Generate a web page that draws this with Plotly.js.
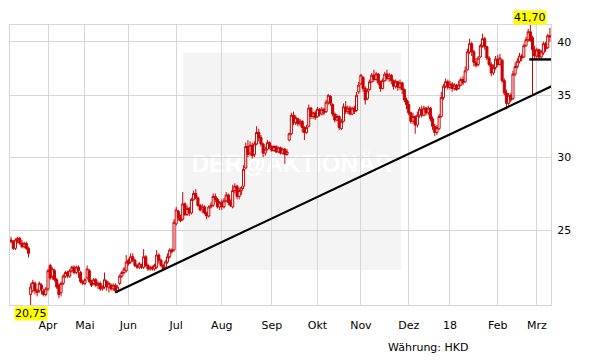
<!DOCTYPE html>
<html><head><meta charset="utf-8">
<script src="https://cdn.plot.ly/plotly-3.0.1.min.js"></script>
<style>html,body{margin:0;padding:0;background:#fff}#chart{width:611px;height:364px}</style>
</head><body><div id="chart"></div>
<script>
const startDate = '2017-03-09';
const endDate = '2018-03-09';
const holidays = ['2017-04-04','2017-04-14','2017-04-17','2017-05-01','2017-05-03','2017-05-30',
  '2017-10-02','2017-10-05','2017-12-25','2017-12-26','2018-01-01','2018-02-16','2018-02-19'];
const monthLabels = ['Jan','Feb','Mrz','Apr','Mai','Jun','Jul','Aug','Sep','Okt','Nov','Dez'];

const open = [
24.4,24.3,23.9,24.4,24.5,24.2,24.0,24.2,23.9,21.3,
21.5,21.9,21.5,21.5,21.8,21.5,21.3,21.6,22.9,22.3,
22.6,22.1,21.8,21.4,21.9,22.3,22.5,22.3,22.6,22.8,
22.5,22.8,22.5,22.0,21.9,22.2,22.6,22.0,21.9,22.1,
21.8,21.9,21.6,21.7,22.0,21.7,21.8,21.6,21.8,21.5,
21.9,22.3,22.5,22.6,23.2,23.1,23.4,23.2,22.9,22.8,
22.9,22.8,23.4,22.9,22.7,22.8,22.7,22.8,23.5,23.2,
22.9,22.8,23.1,23.4,23.8,23.8,25.4,26.2,25.8,25.7,
26.7,26.0,26.4,26.1,27.0,27.4,27.1,26.6,26.3,26.5,
26.1,25.9,26.5,26.6,27.2,27.0,26.5,26.8,26.5,26.9,
27.3,26.8,26.5,27.6,27.9,27.2,27.6,27.9,29.2,30.8,
30.3,30.9,30.2,31.0,31.9,31.5,31.0,30.3,30.6,31.1,
30.8,30.5,30.8,30.4,30.7,30.3,30.6,30.2,31.3,31.8,
33.3,32.7,33.0,32.6,32.8,32.3,31.9,32.4,33.9,33.2,
33.5,33.2,33.8,33.4,33.8,33.6,34.4,34.9,34.2,33.4,
32.9,33.2,32.2,32.8,34.0,33.6,33.9,33.4,33.9,33.7,
35.3,36.0,36.6,35.6,34.7,35.5,36.2,36.8,36.4,36.9,
36.1,35.6,36.3,36.9,36.5,36.8,36.3,35.8,36.2,35.7,
36.1,35.5,34.6,34.2,33.5,32.8,33.2,32.5,33.3,33.8,
33.3,33.9,33.5,33.9,33.0,32.4,31.9,32.2,33.2,34.8,
35.8,36.2,35.7,36.0,35.6,35.9,35.6,35.9,36.4,36.2,
37.3,39.0,39.8,39.0,38.0,37.8,38.5,39.6,40.3,39.5,
38.4,37.8,37.0,37.5,38.3,37.8,38.2,36.3,35.2,34.3,
35.0,34.7,36.9,37.6,38.1,38.6,38.5,39.6,40.2,41.0,
40.4,39.2,38.6,39.2,38.5,38.9,39.8,39.4,40.6];

const high = [
24.6,24.4,24.5,24.6,24.6,24.4,24.3,24.3,24.0,21.9,
22.1,22.0,21.6,22.0,21.9,21.6,21.7,22.7,23.0,22.8,
22.7,22.2,21.9,22.0,22.4,22.6,22.6,22.7,22.9,22.9,
22.9,22.9,22.6,22.1,22.2,22.9,22.7,22.1,22.2,22.2,
22.0,22.0,21.8,22.5,22.1,22.0,21.9,21.9,21.9,21.8,
22.4,22.6,22.8,23.5,23.3,23.6,23.6,23.3,23.0,23.1,
23.0,23.85,23.5,23.0,22.9,22.9,23.0,23.8,23.6,23.3,
23.0,23.2,23.6,23.9,23.9,25.7,26.5,26.3,26.0,27.5,
26.8,26.6,26.5,27.1,27.6,27.7,27.2,26.7,26.7,26.6,
26.2,26.6,26.8,27.4,27.4,27.1,26.9,27.0,27.1,27.5,
27.4,27.0,28.0,28.1,28.0,27.8,27.9,29.4,31.1,31.3,
31.2,31.1,31.2,32.4,32.2,31.7,31.1,30.8,31.3,31.2,
30.9,30.9,30.9,30.8,30.8,30.7,30.7,30.6,31.9,33.5,
33.6,33.3,33.1,33.0,32.9,32.4,32.5,34.2,34.0,33.6,
33.7,34.0,33.9,34.0,33.9,34.6,35.1,35.0,34.3,33.5,
33.4,33.3,33.0,34.3,34.5,34.1,34.1,34.0,34.1,35.3,
36.2,36.9,36.7,35.8,35.6,36.4,37.0,37.3,37.1,37.0,
36.3,36.5,37.1,37.3,37.0,36.9,36.4,36.4,36.3,36.4,
36.2,35.6,34.8,34.5,33.6,33.5,33.3,33.6,34.0,34.1,
34.1,34.0,34.1,34.0,33.2,32.6,32.5,33.4,35.3,36.0,
36.5,36.4,36.3,36.2,36.1,36.0,36.3,36.6,36.7,37.6,
39.3,40.3,40.0,39.2,38.4,38.6,39.8,40.8,40.5,39.6,
38.6,38.0,37.8,38.6,38.7,38.8,38.3,36.5,35.5,35.2,
35.2,37.2,38.0,38.4,38.9,38.8,39.8,40.5,41.3,41.7,
40.6,39.6,39.4,39.3,39.2,40.0,40.0,40.8,41.4];

const low = [
24.2,23.8,23.8,24.2,24.1,23.9,23.9,23.8,23.35,20.75,
21.4,21.3,21.2,21.4,21.3,21.2,21.2,21.5,22.1,22.1,
22.0,21.6,21.1,21.2,21.8,22.2,22.2,22.2,22.5,22.4,
22.4,22.2,21.9,21.8,21.8,22.1,21.9,21.7,21.8,21.7,
21.6,21.5,21.5,21.6,21.5,21.4,21.5,21.5,21.4,21.4,
21.8,22.2,22.4,22.5,22.9,23.0,23.1,22.8,22.7,22.7,
22.7,22.7,22.8,22.6,22.6,22.6,22.6,22.7,23.0,22.8,
22.6,22.7,23.0,23.3,23.6,23.7,25.3,25.6,25.5,25.6,
25.9,25.9,25.9,26.0,26.9,27.0,26.5,26.2,26.1,26.0,
25.7,25.8,26.4,26.5,26.8,26.4,26.3,26.3,26.4,26.8,
26.6,26.5,26.4,27.4,27.0,27.0,27.3,27.7,29.1,30.0,
30.1,29.9,30.0,30.9,31.2,30.8,30.0,30.1,30.5,30.6,
30.4,30.4,30.3,30.3,30.2,30.2,29.5,30.1,31.2,31.7,
32.5,32.5,32.4,32.4,31.9,31.3,31.8,32.3,33.0,33.0,
32.9,33.1,33.2,33.3,33.3,33.5,34.2,34.1,33.2,32.7,
32.8,32.1,32.1,32.7,33.4,33.4,33.3,33.3,33.4,33.6,
35.1,35.9,35.3,34.2,34.6,35.4,36.1,36.2,36.3,35.9,
35.3,35.5,36.2,36.3,36.2,36.0,35.5,35.6,35.4,35.5,
35.1,34.4,33.8,33.3,32.6,32.6,31.8,32.3,33.1,33.1,
33.2,33.3,33.3,32.8,32.1,31.6,31.7,32.1,33.1,34.6,
35.6,35.5,35.5,35.3,35.4,35.4,35.5,35.8,35.9,36.1,
37.2,38.8,38.6,37.6,37.5,37.6,38.4,39.4,39.2,38.2,
37.6,36.7,36.8,37.3,37.6,37.7,36.1,35.0,33.8,34.1,
34.4,34.6,36.7,37.4,37.9,38.1,38.4,39.5,40.0,40.0,
35.0,38.3,38.3,38.3,38.3,38.7,39.0,39.3,40.0];

const close = [
24.3,23.9,24.4,24.5,24.2,24.0,24.2,23.9,23.6,21.7,
21.95,21.5,21.4,21.9,21.6,21.3,21.6,22.6,22.2,22.7,
22.1,21.7,21.3,21.9,22.3,22.5,22.3,22.6,22.8,22.5,
22.8,22.6,22.0,21.9,22.1,22.7,22.0,21.8,22.1,21.8,
21.9,21.6,21.7,22.1,21.7,21.9,21.6,21.8,21.5,21.7,
22.3,22.5,22.7,23.1,23.0,23.4,23.2,22.9,22.8,23.0,
22.8,23.4,22.9,22.7,22.8,22.7,22.9,23.5,23.2,22.9,
22.7,23.1,23.4,23.8,23.7,25.5,26.3,25.8,25.6,26.7,
26.0,26.4,26.1,27.0,27.4,27.1,26.6,26.3,26.5,26.1,
25.9,26.5,26.6,27.2,27.0,26.5,26.8,26.5,26.9,27.3,
26.8,26.6,27.6,27.9,27.2,27.6,27.8,29.1,30.8,30.2,
30.9,30.1,31.0,31.9,31.5,31.0,30.3,30.6,31.1,30.8,
30.5,30.8,30.4,30.7,30.3,30.6,30.2,30.4,31.8,33.3,
32.7,33.1,32.6,32.8,32.3,31.9,32.3,33.9,33.2,33.5,
33.1,33.8,33.4,33.8,33.5,34.4,35.0,34.3,33.4,32.9,
33.2,32.3,32.8,34.0,33.6,33.9,33.4,33.9,33.6,35.0,
35.9,36.8,35.6,34.6,35.4,36.2,36.8,36.4,36.9,36.1,
35.6,36.3,36.9,36.5,36.8,36.3,35.8,36.2,35.7,36.1,
35.5,34.6,34.2,33.5,32.8,33.2,32.5,33.3,33.8,33.3,
33.9,33.5,33.9,33.0,32.4,31.9,32.3,33.2,34.8,35.8,
36.2,35.7,36.0,35.6,35.9,35.5,35.9,36.4,36.1,37.2,
39.0,39.8,39.0,38.0,37.7,38.4,39.6,40.3,39.5,38.4,
37.8,37.0,37.5,38.3,37.8,38.4,36.3,35.2,34.3,35.0,
34.6,36.9,37.6,38.1,38.6,38.4,39.6,40.2,41.0,40.1,
39.2,38.6,39.2,38.5,39.0,39.8,39.3,40.6,40.5];

const trendX = [47.9, 250.8];
const trendY = [21.41, 35.98];
const supportX = [238.5, 248.5];
const supportY = [38.27, 38.27];
const yTicks = [25, 30, 35, 40];
const currencyText = 'Währung: HKD';
const watermarkText = 'DER@AKTIONÄR';

// trading calendar
const dates = [];
let d = new Date(startDate + 'T00:00:00Z');
const end = new Date(endDate + 'T00:00:00Z');
while (d <= end) {
  const dow = d.getUTCDay();
  const s = d.toISOString().slice(0, 10);
  if (dow !== 0 && dow !== 6 && holidays.indexOf(s) < 0) dates.push(s);
  d = new Date(d.getTime() + 86400000);
}
const n = close.length;
const idx = close.map((_, i) => i);
const tickvals = [], ticktext = [];
for (let i = 1; i < n && i < dates.length; i++) {
  const m = dates[i].slice(5, 7);
  if (m !== dates[i - 1].slice(5, 7)) {
    tickvals.push(i);
    ticktext.push(m === '01' ? dates[i].slice(2, 4) : monthLabels[parseInt(m, 10) - 1]);
  }
}
const minLow = Math.min(...low), maxHigh = Math.max(...high);
const iMin = low.indexOf(minLow), iMax = high.indexOf(maxHigh);
const fmt = v => v.toFixed(2).replace('.', ',');

const red = '#cc0000';
const gridC = '#d6d6d6';
const fnt = {family: 'DejaVu Sans', size: 11, color: '#000'};

const traces = [
  {type: 'candlestick', x: idx, open: open, high: high, low: low, close: close,
   increasing: {line: {color: red, width: 1}, fillcolor: '#ffffff'},
   decreasing: {line: {color: red, width: 1}, fillcolor: red},
   whiskerwidth: 0, hoverinfo: 'skip', showlegend: false},
  {type: 'scatter', mode: 'lines', x: trendX, y: trendY,
   line: {color: '#000', width: 2.2}, hoverinfo: 'skip', showlegend: false},
  {type: 'scatter', mode: 'lines', x: supportX, y: supportY,
   line: {color: '#000', width: 2.4}, hoverinfo: 'skip', showlegend: false}
];

const layout = {
  width: 611, height: 364,
  margin: {l: 10, r: 60, t: 25, b: 59},
  paper_bgcolor: '#ffffff', plot_bgcolor: 'rgba(0,0,0,0)',
  boxgap: 0.05, boxgroupgap: 0,
  showlegend: false,
  font: fnt,
  xaxis: {range: [-0.5, n - 0.5], tickvals: tickvals, ticktext: ticktext,
    showgrid: true, gridcolor: gridC, gridwidth: 1, zeroline: false,
    showline: true, mirror: true, linecolor: gridC, linewidth: 1,
    ticks: '', ticklabelstandoff: 10, tickfont: fnt,
    rangeslider: {visible: false}, fixedrange: true},
  yaxis: {type: 'log', range: [Math.log10(minLow), Math.log10(maxHigh)],
    side: 'right', tickvals: yTicks, ticktext: yTicks.map(String),
    showgrid: true, gridcolor: gridC, gridwidth: 1, zeroline: false,
    showline: true, mirror: true, linecolor: gridC, linewidth: 1,
    ticks: '', ticklabelstandoff: 3, tickfont: fnt, fixedrange: true},
  shapes: [
    {type: 'rect', layer: 'below', xref: 'paper', yref: 'paper',
     x0: 0.32, x1: 0.7227, y0: 0.125, y1: 0.901,
     fillcolor: '#f4f4f4', line: {width: 0},
     label: {text: watermarkText, textposition: 'middle center',
       font: {family: 'Liberation Sans', size: 24, color: '#ffffff', weight: 'bold'}}}
  ],
  annotations: [
    {x: iMax, xref: 'x', y: 1, yref: 'paper', yanchor: 'bottom', xanchor: 'center',
     text: fmt(maxHigh), showarrow: false, bgcolor: '#ffff00', borderpad: 0,
     font: fnt},
    {x: iMin, xref: 'x', y: 0, yref: 'paper', yanchor: 'top', xanchor: 'center',
     text: fmt(minLow), showarrow: false, bgcolor: '#ffff00', borderpad: 0,
     yshift: -1, font: fnt},
    {x: 0.695, xref: 'paper', y: -0.15, yref: 'paper', xanchor: 'left', yanchor: 'middle',
     text: currencyText, showarrow: false, font: fnt}
  ]
};

Plotly.newPlot('chart', traces, layout, {displayModeBar: false, staticPlot: true});
</script>
</body></html>
